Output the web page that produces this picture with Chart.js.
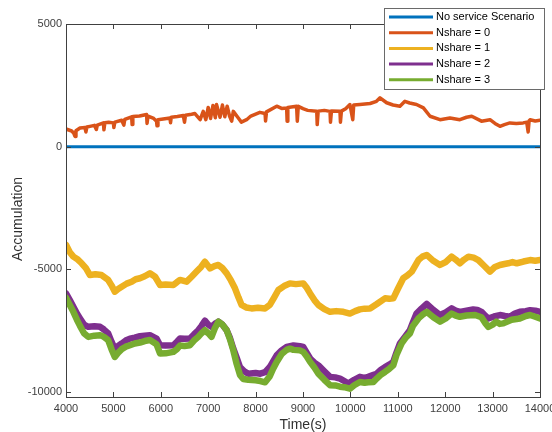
<!DOCTYPE html>
<html>
<head>
<meta charset="utf-8">
<script src="https://cdn.jsdelivr.net/npm/chart.js@4.4.1/dist/chart.umd.min.js"></script>
<style>
  html, body { margin: 0; padding: 0; background: #fff; }
  #wrap { width: 552px; height: 432px; }
</style>
</head>
<body>
<div id="wrap"><canvas id="chart" width="552" height="432"></canvas></div>
<script>
// series labels
const seriesLabels = ['No service Scenario', 'Nshare = 0', 'Nshare = 1', 'Nshare = 2', 'Nshare = 3'];

// axis ticks
const xTicks = [4000, 5000, 6000, 7000, 8000, 9000, 10000, 11000, 12000, 13000, 14000];
const yTicks = [-10000, -5000, 0, 5000];

// no service
const baseTime = [4000, 14000];
const baseValues = [0, 0];

// Nshare = 0
const share0Time = [4000, 4060, 4120, 4160, 4190, 4210, 4295, 4400, 4420, 4440, 4505, 4600, 4640, 4660, 4790, 4800, 4820, 4900, 5000, 5010, 5030, 5175, 5220, 5240, 5385, 5395, 5410, 5550, 5700, 5710, 5730, 5850, 5910, 5920, 5940, 6050, 6195, 6205, 6220, 6350, 6475, 6500, 6520, 6650, 6720, 6830, 6895, 6950, 7000, 7050, 7100, 7150, 7175, 7250, 7300, 7350, 7400, 7450, 7495, 7530, 7635, 7700, 7810, 7900, 8090, 8200, 8210, 8230, 8445, 8550, 8655, 8665, 8680, 8865, 8880, 8900, 9000, 9100, 9290, 9300, 9320, 9450, 9570, 9580, 9600, 9780, 9790, 9810, 9900, 9990, 10050, 10070, 10200, 10415, 10550, 10625, 10765, 10900, 11045, 11150, 11250, 11395, 11540, 11680, 11890, 12100, 12310, 12450, 12560, 12765, 12945, 13050, 13155, 13250, 13365, 13500, 13645, 13720, 13750, 13770, 13790, 13900, 14000];
const share0Values = [720, 680, 640, 560, 420, 650, 760, 780, 600, 800, 830, 870, 700, 880, 970, 690, 980, 1000, 970, 780, 1000, 1080, 880, 1110, 1220, 900, 1230, 1250, 1310, 950, 1250, 1150, 1040, 850, 1100, 1130, 1170, 980, 1200, 1230, 1270, 1000, 1280, 1320, 1350, 1100, 1440, 1100, 1600, 1150, 1680, 1180, 1720, 1200, 1700, 1220, 1650, 1250, 1040, 1440, 1170, 1000, 1100, 1250, 1400, 1350, 1050, 1420, 1650, 1560, 1580, 1040, 1600, 1650, 1040, 1650, 1550, 1480, 1440, 900, 1450, 1480, 1440, 1000, 1450, 1440, 1000, 1450, 1550, 1720, 1100, 1700, 1720, 1760, 1850, 1990, 1790, 1700, 1650, 1850, 1780, 1720, 1580, 1240, 1100, 1170, 1100, 1200, 1240, 1040, 1100, 950, 830, 900, 970, 950, 970, 1000, 600, 1050, 1100, 1050, 1080];

// Nshare = 1
const share1Time = [4000, 4080, 4155, 4250, 4330, 4420, 4505, 4620, 4750, 4890, 4960, 5030, 5100, 5175, 5280, 5385, 5470, 5560, 5660, 5770, 5880, 5985, 6100, 6265, 6340, 6405, 6545, 6650, 6755, 6850, 6930, 7040, 7130, 7215, 7300, 7390, 7480, 7565, 7640, 7705, 7800, 7915, 8050, 8200, 8300, 8390, 8480, 8600, 8725, 8850, 9005, 9080, 9150, 9240, 9325, 9450, 9570, 9700, 9850, 9990, 10100, 10200, 10300, 10415, 10550, 10730, 10820, 10905, 11000, 11115, 11200, 11295, 11435, 11520, 11610, 11750, 11890, 12010, 12135, 12220, 12310, 12400, 12490, 12600, 12700, 12820, 12945, 13050, 13155, 13250, 13330, 13420, 13510, 13650, 13790, 13900, 14000];
const share1Values = [-4000, -4300, -4480, -4600, -4750, -4950, -5230, -5200, -5230, -5430, -5650, -5910, -5800, -5710, -5580, -5500, -5400, -5360, -5280, -5160, -5300, -5640, -5620, -5640, -5520, -5430, -5500, -5300, -5090, -4900, -4690, -4960, -4870, -4820, -4950, -5160, -5450, -5770, -6150, -6450, -6550, -6590, -6560, -6590, -6450, -6150, -5840, -5680, -5570, -5600, -5570, -5750, -5980, -6250, -6450, -6620, -6730, -6700, -6730, -6800, -6700, -6630, -6600, -6590, -6420, -6180, -6200, -6180, -5800, -5360, -5250, -5090, -4620, -4480, -4410, -4650, -4820, -4700, -4480, -4600, -4750, -4600, -4480, -4520, -4620, -4850, -5090, -4900, -4820, -4780, -4750, -4700, -4750, -4680, -4620, -4650, -4620];

// Nshare = 2
const share2Time = [4000, 4080, 4155, 4230, 4295, 4380, 4470, 4600, 4720, 4800, 4890, 4960, 5030, 5100, 5175, 5260, 5350, 5450, 5560, 5660, 5770, 5910, 5985, 6100, 6265, 6340, 6405, 6500, 6615, 6700, 6790, 6860, 6930, 7000, 7070, 7140, 7215, 7300, 7390, 7460, 7530, 7600, 7670, 7760, 7845, 8000, 8100, 8200, 8300, 8370, 8445, 8550, 8655, 8800, 8935, 9005, 9080, 9150, 9240, 9325, 9450, 9570, 9680, 9780, 9870, 9955, 10080, 10200, 10300, 10375, 10460, 10555, 10640, 10730, 10820, 10905, 10970, 11045, 11150, 11255, 11320, 11395, 11500, 11610, 11750, 11890, 12010, 12135, 12220, 12310, 12450, 12590, 12680, 12765, 12850, 12910, 13030, 13155, 13260, 13365, 13470, 13575, 13700, 13790, 13900, 14000];
const share2Values = [-5980, -6250, -6520, -6800, -7000, -7250, -7340, -7320, -7340, -7450, -7610, -7950, -8230, -8120, -8020, -7900, -7820, -7780, -7720, -7700, -7680, -7820, -8090, -8100, -8090, -7950, -7820, -7830, -7820, -7650, -7480, -7300, -7090, -7250, -7340, -7220, -7130, -7250, -7480, -7800, -8230, -8600, -8980, -9150, -9250, -9220, -9250, -9190, -8980, -8750, -8500, -8300, -8160, -8100, -8130, -8160, -8400, -8630, -8800, -8910, -9150, -9380, -9400, -9450, -9550, -9650, -9500, -9380, -9420, -9380, -9320, -9250, -9100, -8980, -8880, -8770, -8400, -8020, -7750, -7480, -7150, -6800, -6600, -6410, -6650, -6860, -6750, -6590, -6680, -6730, -6680, -6630, -6650, -6730, -6900, -7000, -6920, -6860, -6900, -6930, -6800, -6730, -6700, -6660, -6680, -6730];

// Nshare = 3
const share3Time = [4000, 4080, 4155, 4230, 4295, 4380, 4470, 4600, 4720, 4800, 4890, 4960, 5030, 5100, 5175, 5260, 5350, 5450, 5560, 5660, 5770, 5910, 5985, 6100, 6265, 6340, 6405, 6500, 6615, 6700, 6790, 6860, 6930, 7000, 7070, 7140, 7215, 7300, 7390, 7460, 7530, 7600, 7670, 7740, 7845, 8000, 8100, 8200, 8300, 8370, 8445, 8550, 8655, 8725, 8800, 8935, 9005, 9080, 9150, 9240, 9325, 9450, 9570, 9680, 9780, 9870, 9990, 10080, 10200, 10300, 10375, 10485, 10555, 10640, 10730, 10820, 10905, 10970, 11080, 11160, 11255, 11320, 11435, 11520, 11610, 11750, 11890, 12010, 12135, 12220, 12310, 12450, 12630, 12765, 12850, 12910, 13000, 13080, 13150, 13225, 13400, 13575, 13700, 13790, 13900, 14000];
const share3Values = [-6150, -6450, -6730, -7050, -7300, -7600, -7750, -7700, -7680, -7750, -7880, -8250, -8570, -8400, -8250, -8150, -8090, -8020, -7980, -7920, -7880, -8050, -8430, -8420, -8360, -8250, -8100, -8120, -8090, -7900, -7750, -7600, -7480, -7600, -7750, -7400, -7130, -7250, -7480, -7850, -8300, -8850, -9300, -9470, -9500, -9520, -9550, -9600, -9350, -9050, -8770, -8450, -8280, -8230, -8280, -8300, -8360, -8550, -8770, -9000, -9250, -9500, -9720, -9730, -9780, -9800, -9860, -9720, -9590, -9620, -9600, -9590, -9450, -9300, -9180, -9050, -8910, -8500, -8020, -7800, -7610, -7300, -7000, -6850, -6730, -6950, -7130, -7000, -6800, -6880, -6930, -6880, -6860, -6950, -7200, -7340, -7250, -7130, -7220, -7200, -7050, -7000, -6900, -6860, -6930, -7000];

const colors = ['#0072BD', '#D95319', '#EDB120', '#7E2F8E', '#77AC30'];
const widths = [3, 3.5, 6.5, 6.5, 6.5];
const axisColor = '#404040';
const fontFamily = '"Liberation Sans", Arial, Helvetica, sans-serif';

const toPoints = (ts, vs) => ts.map((t, i) => ({ x: t, y: vs[i] }));
const allSeries = [
  toPoints(baseTime, baseValues),
  toPoints(share0Time, share0Values),
  toPoints(share1Time, share1Values),
  toPoints(share2Time, share2Values),
  toPoints(share3Time, share3Values),
];

// box, inside ticks, axis titles and legend, matlab style
const matlabFrame = {
  id: 'matlabFrame',
  afterDraw(chart) {
    const { ctx, chartArea: a, scales } = chart;
    const tl = 5;
    ctx.save();
    ctx.strokeStyle = axisColor;
    ctx.lineWidth = 1;
    ctx.strokeRect(Math.round(a.left) + 0.5, Math.round(a.top) + 0.5,
      Math.round(a.right - a.left), Math.round(a.bottom - a.top));
    ctx.beginPath();
    xTicks.forEach(v => {
      const px = Math.round(scales.x.getPixelForValue(v)) + 0.5;
      ctx.moveTo(px, a.bottom); ctx.lineTo(px, a.bottom - tl);
      ctx.moveTo(px, a.top); ctx.lineTo(px, a.top + tl);
    });
    yTicks.forEach(v => {
      const py = Math.round(scales.y.getPixelForValue(v)) + 0.5;
      ctx.moveTo(a.left, py); ctx.lineTo(a.left + tl, py);
      ctx.moveTo(a.right, py); ctx.lineTo(a.right - tl, py);
    });
    ctx.stroke();

    // axis titles
    ctx.fillStyle = '#303030';
    ctx.font = '14px ' + fontFamily;
    ctx.textAlign = 'center';
    ctx.textBaseline = 'middle';
    ctx.fillText('Time(s)', (a.left + a.right) / 2, 425);
    ctx.save();
    ctx.translate(18, 219);
    ctx.rotate(-Math.PI / 2);
    ctx.fillText('Accumulation', 0, 0);
    ctx.restore();

    // legend
    const lx = 384, ly = 8, lw = 160, lh = 81;
    ctx.fillStyle = '#fff';
    ctx.fillRect(lx, ly, lw, lh);
    ctx.strokeStyle = '#6a6a6a';
    ctx.strokeRect(lx + 0.5, ly + 0.5, lw, lh);
    ctx.font = '11px ' + fontFamily;
    ctx.textAlign = 'left';
    chart.data.datasets.forEach((ds, i) => {
      const y = 17 + i * 15.7;
      ctx.strokeStyle = ds.borderColor;
      ctx.lineWidth = 3;
      ctx.beginPath();
      ctx.moveTo(389, y); ctx.lineTo(433, y);
      ctx.stroke();
      ctx.fillStyle = '#000';
      ctx.fillText(ds.label, 436, y);
    });
    ctx.restore();
  },
};

const plainLabel = v => String(v);

new Chart(document.getElementById('chart'), {
  type: 'line',
  data: {
    datasets: allSeries.map((pts, i) => ({
      label: seriesLabels[i],
      data: pts,
      borderColor: colors[i],
      backgroundColor: colors[i],
      borderWidth: widths[i],
      pointRadius: 0,
      tension: 0,
      fill: false,
      order: allSeries.length - i,
      borderJoinStyle: 'round',
      borderCapStyle: 'round',
    })),
  },
  options: {
    responsive: false,
    animation: false,
    layout: { padding: { top: 24, right: 12, left: 0, bottom: 0 } },
    plugins: { legend: { display: false }, tooltip: { enabled: false } },
    scales: {
      x: {
        type: 'linear',
        min: 4000,
        max: 14000,
        afterBuildTicks: s => { s.ticks = xTicks.map(v => ({ value: v })); },
        afterFit: s => { s.height = 35; s.paddingLeft = 0; s.paddingRight = 0; },
        grid: { display: false, drawTicks: false },
        border: { display: false },
        ticks: { padding: 5, color: axisColor, maxRotation: 0, autoSkip: false, callback: plainLabel, font: { size: 11, family: fontFamily } },
      },
      y: {
        type: 'linear',
        min: -10200,
        max: 5000,
        afterBuildTicks: s => { s.ticks = yTicks.map(v => ({ value: v })); },
        afterFit: s => { s.width = 66; s.paddingTop = 0; s.paddingBottom = 0; },
        grid: { display: false, drawTicks: false },
        border: { display: false },
        ticks: { padding: 4, color: axisColor, callback: plainLabel, font: { size: 11, family: fontFamily } },
      },
    },
  },
  plugins: [matlabFrame],
});
</script>
</body>
</html>
